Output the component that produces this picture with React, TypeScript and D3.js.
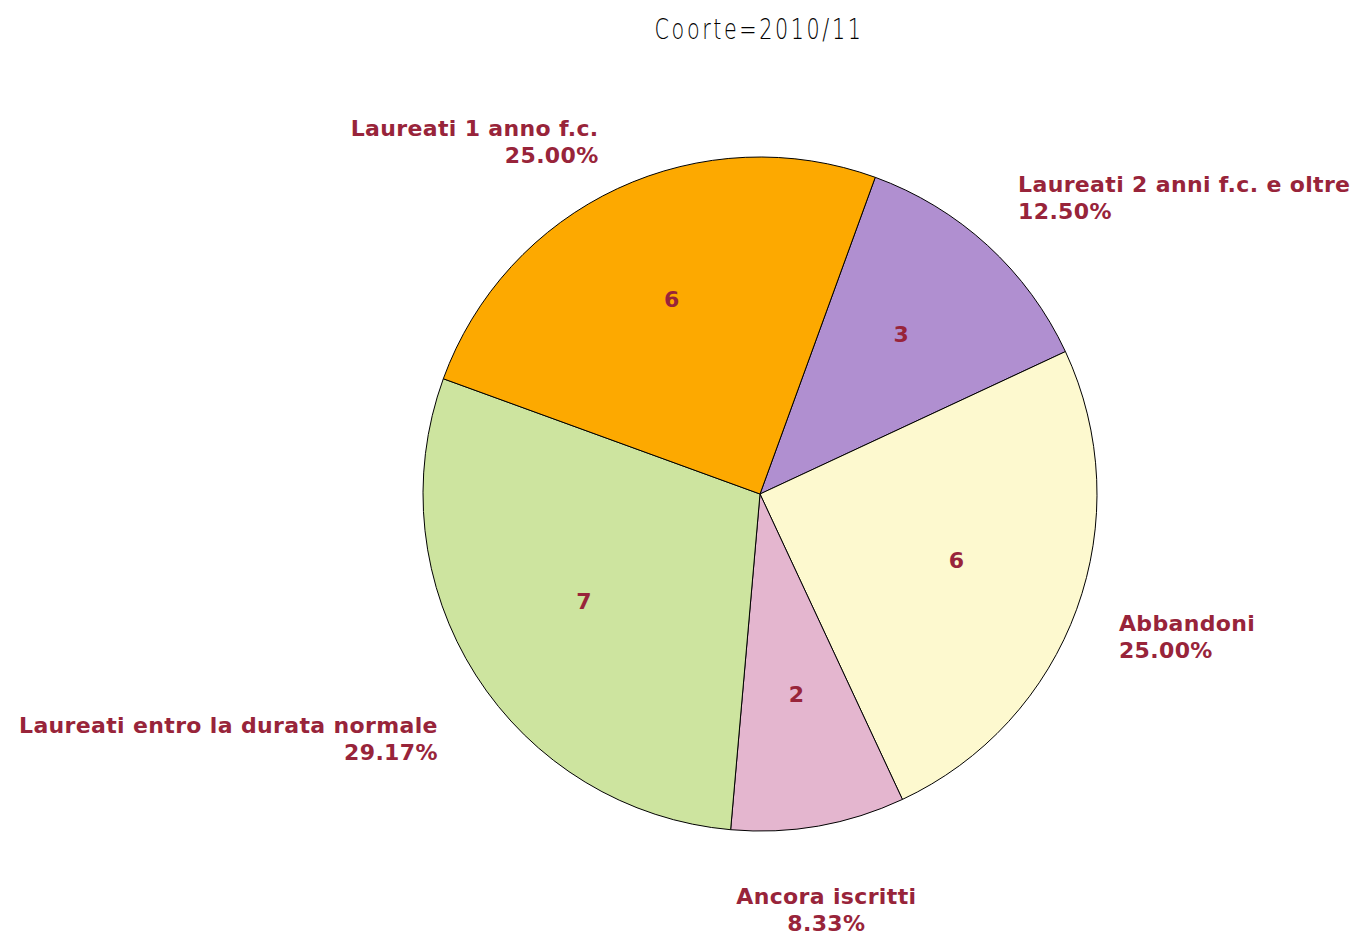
import React from "react";
import * as d3 from "d3";

const categories = [
  "Laureati 2 anni f.c. e oltre",
  "Abbandoni",
  "Ancora iscritti",
  "Laureati entro la durata normale",
  "Laureati 1 anno f.c.",
];
const counts = [3, 6, 2, 7, 6];
const colors = ["#B08FD0", "#FDF9CF", "#E4B6CF", "#CDE49F", "#FDA900"];
const title = "Coorte=2010/11";

const W = 1357;
const H = 935;
const cx = 760;
const cy = 494;
const R = 337;
const startDeg = 20;
const textColor = "#98243A";
const font = "'DejaVu Sans', Verdana, sans-serif";

export default function App() {
  const total = d3.sum(counts);
  const pie = d3
    .pie<number>()
    .sort(null)
    .value((d) => d)
    .startAngle((startDeg * Math.PI) / 180)
    .endAngle((startDeg * Math.PI) / 180 + 2 * Math.PI);
  const arcs = pie(counts);
  const arcGen = d3.arc<d3.PieArcDatum<number>>().innerRadius(0).outerRadius(R);
  const innerR = R * 0.62;
  const outerR = 382;
  const lineH = 27;

  return (
    <svg width={W} height={H} style={{ position: "absolute", left: 0, top: 0 }}>
      <rect width={W} height={H} fill="#fff" />
      <text
        x={0}
        y={0}
        transform={`translate(759,39) scale(0.74,1)`}
        textAnchor="middle"
        fontFamily="'DejaVu Sans', sans-serif"
        fontWeight={200}
        fontSize={28}
        letterSpacing={3.5}
        fill="#000"
      >
        {title}
      </text>
      <g transform={`translate(${cx},${cy})`}>
        {arcs.map((a, i) => (
          <path key={i} d={arcGen(a) || ""} fill={colors[i]} stroke="#000" strokeWidth={1} />
        ))}
        {arcs.map((a, i) => {
          const m = (a.startAngle + a.endAngle) / 2;
          return (
            <text
              key={"v" + i}
              x={innerR * Math.sin(m)}
              y={-innerR * Math.cos(m) - 5}
              textAnchor="middle"
              dominantBaseline="central"
              fontFamily={font}
              fontWeight="bold"
              fontSize={22}
              fill={textColor}
            >
              {counts[i]}
            </text>
          );
        })}
        {arcs.map((a, i) => {
          const m = (a.startAngle + a.endAngle) / 2;
          const s = Math.sin(m);
          const c = Math.cos(m);
          const px = outerR * s;
          const py = -outerR * c;
          const anchor = s > 0.2 ? "start" : s < -0.2 ? "end" : "middle";
          const centerY = py - c * 28 - s * 12 + 14;
          const pct = ((counts[i] / total) * 100).toFixed(2) + "%";
          return (
            <text
              key={"l" + i}
              x={px}
              y={centerY - lineH / 2 + 8}
              textAnchor={anchor}
              fontFamily={font}
              fontWeight="bold"
              fontSize={22}
              letterSpacing={0.35}
              fill={textColor}
            >
              <tspan x={px}>{categories[i]}</tspan>
              <tspan x={px} dy={lineH}>
                {pct}
              </tspan>
            </text>
          );
        })}
      </g>
    </svg>
  );
}
